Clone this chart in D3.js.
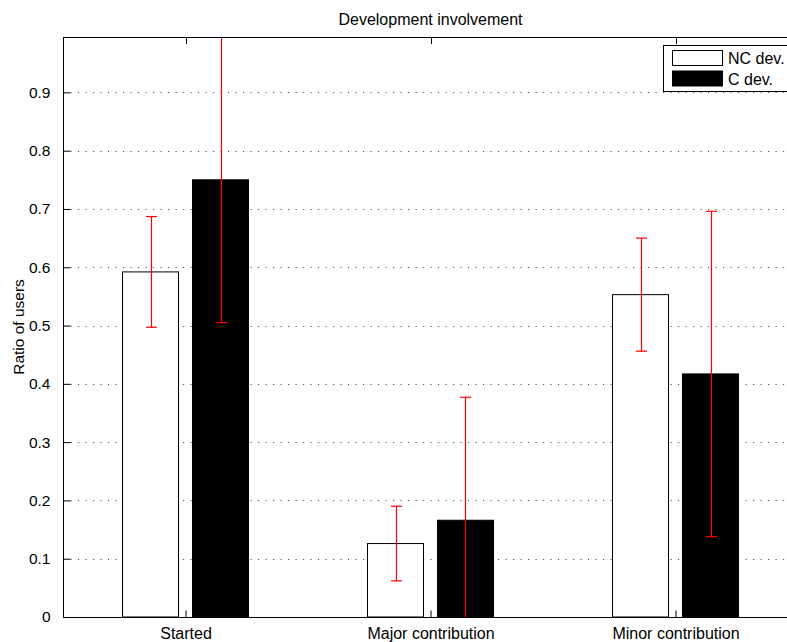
<!DOCTYPE html>
<html>
<head>
<meta charset="utf-8">
<script src="https://cdn.jsdelivr.net/npm/d3@7"></script>
<style>
  html, body { margin: 0; padding: 0; background: #fff; }
  svg { display: block; font-family: "Liberation Sans", Arial, Helvetica, sans-serif; }
</style>
</head>
<body>
<svg id="chart" width="787" height="642"></svg>
<script>
// Categories and grouped series
const categories = ["Started", "Major contribution", "Minor contribution"];
const seriesNames = ["NC dev.", "C dev."];
const ncValues = [0.592, 0.126, 0.553];
const cValues = [0.750, 0.166, 0.417];
const ncErrors = [0.095, 0.064, 0.097];
const cErrors = [0.245, 0.211, 0.279];
const yTickValues = [0, 0.1, 0.2, 0.3, 0.4, 0.5, 0.6, 0.7, 0.8, 0.9];
const yTickLabels = ["0", "0.1", "0.2", "0.3", "0.4", "0.5", "0.6", "0.7", "0.8", "0.9"];
const titleText = "Development involvement";
const yLabelText = "Ratio of users";

const svg = d3.select("#chart");
const plot = { left: 63, right: 798, top: 37, bottom: 617 };

// Category positions 1..3, axis spanning 0.5..3.5
const x = d3.scaleLinear().domain([0.5, 3.5]).range([plot.left, plot.right]);
const y = d3.scaleLinear().domain([0, 0.995]).range([plot.bottom, plot.top]);

// Grouped bar geometry: two bars per group
const groupWidth = Math.min(0.8, 2 / (2 + 1.5));
const barWidth = groupWidth / 2 * 0.8;
const offsets = [-groupWidth / 4, groupWidth / 4];

const series = [
  { name: seriesNames[0], values: ncValues, errors: ncErrors, fill: "#ffffff" },
  { name: seriesNames[1], values: cValues, errors: cErrors, fill: "#000000" }
];

svg.append("defs").append("clipPath").attr("id", "plotClip")
  .append("rect")
  .attr("x", plot.left).attr("y", plot.top)
  .attr("width", plot.right - plot.left).attr("height", plot.bottom - plot.top);

// Dotted horizontal grid
svg.append("g")
  .selectAll("line")
  .data(yTickValues.filter(v => v > 0))
  .join("line")
  .attr("x1", plot.left).attr("x2", plot.right)
  .attr("y1", d => Math.round(y(d)) + 0.5).attr("y2", d => Math.round(y(d)) + 0.5)
  .attr("stroke", "#555")
  .attr("stroke-width", 1)
  .attr("stroke-dasharray", "1.2 6.3");

const content = svg.append("g").attr("clip-path", "url(#plotClip)");

// Bars
series.forEach((s, si) => {
  content.append("g")
    .selectAll("rect")
    .data(s.values)
    .join("rect")
    .attr("x", (d, i) => x(i + 1 + offsets[si] - barWidth / 2))
    .attr("width", x(barWidth) - x(0))
    .attr("y", d => y(d))
    .attr("height", d => y(0) - y(d))
    .attr("fill", s.fill)
    .attr("stroke", "#000")
    .attr("stroke-width", 1);
});

// Error bars
const capHalf = 5.5;
series.forEach((s, si) => {
  const g = content.append("g").attr("stroke", "#ff0000").attr("stroke-width", 1.2);
  s.values.forEach((v, i) => {
    const cx = Math.round(x(i + 1 + offsets[si])) + 0.5;
    const hi = y(v + s.errors[i]);
    const lo = y(v - s.errors[i]);
    g.append("line").attr("x1", cx).attr("x2", cx).attr("y1", hi).attr("y2", lo);
    g.append("line").attr("x1", cx - capHalf).attr("x2", cx + capHalf).attr("y1", hi).attr("y2", hi);
    g.append("line").attr("x1", cx - capHalf).attr("x2", cx + capHalf).attr("y1", lo).attr("y2", lo);
  });
});

// Axes box
svg.append("rect")
  .attr("x", plot.left + 0.5).attr("y", plot.top + 0.5)
  .attr("width", plot.right - plot.left).attr("height", plot.bottom - plot.top)
  .attr("fill", "none").attr("stroke", "#000").attr("stroke-width", 1);

// Left axis with inward ticks
const yAxis = d3.axisLeft(y)
  .tickValues(yTickValues)
  .tickFormat((d, i) => yTickLabels[i])
  .tickSizeInner(-7).tickSizeOuter(0).tickPadding(13);
const gy = svg.append("g").attr("transform", `translate(${plot.left + 0.5},0)`).call(yAxis);
gy.select(".domain").remove();
gy.selectAll("text").attr("font-size", 15.5).attr("fill", "#000").attr("font-family", null);
gy.selectAll("line").attr("stroke", "#000");

// Bottom axis with inward ticks
const xAxis = d3.axisBottom(x)
  .tickValues([1, 2, 3])
  .tickFormat((d, i) => categories[i])
  .tickSizeInner(-7).tickSizeOuter(0).tickPadding(10);
const gx = svg.append("g").attr("transform", `translate(0,${plot.bottom + 0.5})`).call(xAxis);
gx.select(".domain").remove();
gx.selectAll("text").attr("font-size", 16).attr("fill", "#000").attr("font-family", null);
gx.selectAll("line").attr("stroke", "#000");

// Top ticks pointing down
svg.append("g")
  .selectAll("line")
  .data([1, 2, 3])
  .join("line")
  .attr("x1", d => Math.round(x(d)) + 0.5).attr("x2", d => Math.round(x(d)) + 0.5)
  .attr("y1", plot.top).attr("y2", plot.top + 7)
  .attr("stroke", "#000");

// Title
svg.append("text")
  .attr("x", (plot.left + plot.right) / 2).attr("y", 25)
  .attr("text-anchor", "middle")
  .attr("font-size", 16)
  .text(titleText);

// Y label
svg.append("text")
  .attr("transform", `translate(24,${(plot.top + plot.bottom) / 2}) rotate(-90)`)
  .attr("text-anchor", "middle")
  .attr("font-size", 15.5)
  .text(yLabelText);

// Legend
const legend = svg.append("g");
legend.append("rect")
  .attr("x", 663.5).attr("y", 45.5).attr("width", 160).attr("height", 46)
  .attr("fill", "#fff").attr("stroke", "#000").attr("stroke-width", 1);
series.forEach((s, si) => {
  const top = 50.5 + si * 20.5;
  legend.append("rect")
    .attr("x", 672.5).attr("y", top).attr("width", 50).attr("height", 15)
    .attr("fill", s.fill).attr("stroke", "#000").attr("stroke-width", 1);
  legend.append("text")
    .attr("x", 728).attr("y", top + 13.5)
    .attr("font-size", 16)
    .text(s.name);
});
</script>
</body>
</html>
